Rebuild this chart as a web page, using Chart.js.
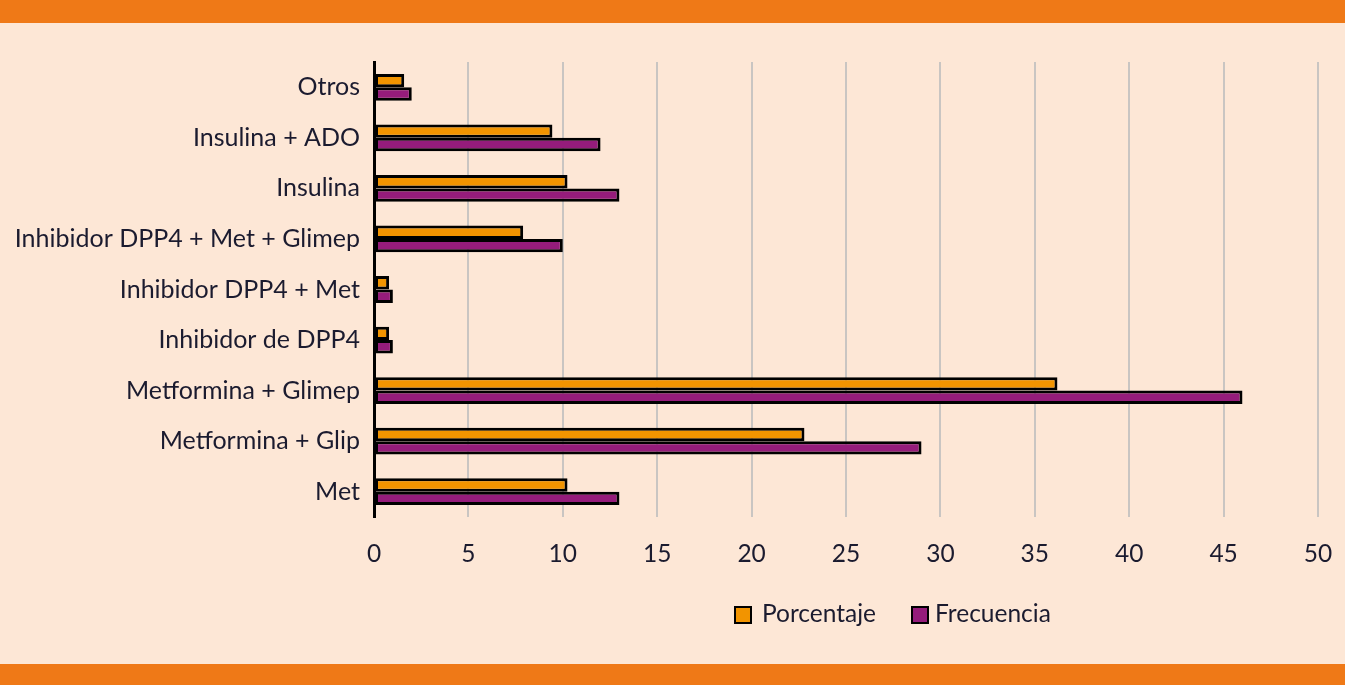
<!DOCTYPE html>
<html>
<head>
<meta charset="utf-8">
<script src="https://cdn.jsdelivr.net/npm/chart.js@4"></script>
<style>
    html, body { margin: 0; padding: 0; }
    body {
        width: 1345px;
        height: 685px;
        position: relative;
        overflow: hidden;
        background: #fde7d6;
        font-family: Lato, "Open Sans", sans-serif;
    }
    .band { position: absolute; left: 0; width: 1345px; background: #ef7917; }
    #chart { position: absolute; left: 0; top: 0; }
    .legend { position: absolute; top: 598px; left: 734px; font-size: 24.5px; color: #1b1b2f; }
    .legend span { position: absolute; white-space: nowrap; }
    .legend .box { width: 14px; height: 14px; border: 2px solid #000; top: 8px; }
</style>
</head>
<body>
<div class="band" style="top:0;height:23px"></div>
<div class="band" style="top:664px;height:21px"></div>
<canvas id="chart" width="1345" height="685"></canvas>
<div class="legend" id="legend"></div>
<script>
// Tratamientos (de arriba a abajo)
const categories = [
    'Otros',
    'Insulina + ADO',
    'Insulina',
    'Inhibidor DPP4 + Met + Glimep',
    'Inhibidor DPP4 + Met',
    'Inhibidor de DPP4',
    'Metformina + Glimep',
    'Metformina + Glip',
    'Met'
];
const porcentaje = [1.6, 9.45, 10.25, 7.9, 0.8, 0.8, 36.2, 22.8, 10.25];
const frecuencia = [2, 12, 13, 10, 1, 1, 46, 29, 13];
const xTicks = [0, 5, 10, 15, 20, 25, 30, 35, 40, 45, 50];

const seriesNames = ['Porcentaje', 'Frecuencia'];
const seriesColors = ['#f29400', '#951c7b'];

const textColor = '#1b1b2f';
const fontFamily = 'Lato, "Open Sans", sans-serif';

const ctx = document.getElementById('chart');

new Chart(ctx, {
    type: 'bar',
    data: {
        labels: categories,
        datasets: [{
            label: seriesNames[0],
            data: porcentaje,
            backgroundColor: seriesColors[0],
            borderColor: '#000000',
            borderWidth: 3,
            borderSkipped: false,
        }, {
            label: seriesNames[1],
            data: frecuencia,
            backgroundColor: seriesColors[1],
            borderColor: '#000000',
            borderWidth: 3,
            borderSkipped: false,
        }]
    },
    options: {
        indexAxis: 'y',
        responsive: false,
        animation: false,
        devicePixelRatio: 1,
        datasets: {
            bar: {
                categoryPercentage: 0.53,
                barPercentage: 1
            }
        },
        layout: {
            padding: { top: 62, right: 27, left: 0, bottom: 0 }
        },
        plugins: {
            legend: { display: false },
            tooltip: { enabled: false }
        },
        scales: {
            x: {
                min: 0,
                max: 50,
                afterBuildTicks: function(scale) {
                    scale.ticks = xTicks.map(v => ({ value: v }));
                },
                afterFit: function(scale) {
                    scale.height = 168;
                    scale.paddingRight = 0;
                    scale.paddingLeft = 0;
                },
                ticks: {
                    color: textColor,
                    padding: 22,
                    maxRotation: 0,
                    font: { family: fontFamily, size: 24.5 }
                },
                grid: {
                    color: '#c9c5c2',
                    lineWidth: 2,
                    drawTicks: false
                },
                border: { display: false }
            },
            y: {
                z: 1,
                afterFit: function(scale) {
                    scale.width = 374;
                },
                ticks: {
                    color: textColor,
                    padding: 14,
                    font: { family: fontFamily, size: 25 }
                },
                grid: { display: false, drawTicks: false },
                border: { display: true, color: '#000000', width: 3 }
            }
        }
    }
});

// Leyenda
const legend = document.getElementById('legend');
const legendPos = [[0, 28], [177, 201]];
seriesNames.forEach((name, i) => {
    const box = document.createElement('span');
    box.className = 'box';
    box.style.left = legendPos[i][0] + 'px';
    box.style.background = seriesColors[i];
    legend.appendChild(box);
    const txt = document.createElement('span');
    txt.style.left = legendPos[i][1] + 'px';
    txt.textContent = name;
    legend.appendChild(txt);
});
</script>
</body>
</html>
